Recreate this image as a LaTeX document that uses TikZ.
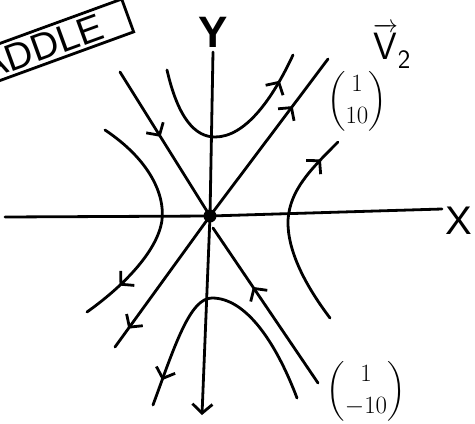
\documentclass[tikz,border=0pt]{standalone}
\usepackage{amsmath}
\usepackage{fontspec}
\setmainfont{Liberation Sans}
\usetikzlibrary{arrows.meta,decorations.markings}
\tikzset{
  barb/.tip={Straight Barb[length=9pt,width=20pt]},
  curve/.style={line width=2.8pt, line cap=round, line join=round},
  flowat/.style={postaction={decorate},
    decoration={markings,mark=at position #1 with {\arrow{barb}}}},
  lab/.style={inner sep=0pt},
}
\begin{document}
\begin{tikzpicture}[x=1pt,y=-1pt]
\useasboundingbox (0,0) rectangle (475,424);
\coordinate (O) at (210,216);
% axes
\draw[curve] (5,217) -- (O) -- (442,209);
\draw[curve,-{barb}] (213,52) -- (O) -- (202,415);
\node[lab,font=\bfseries\fontsize{44}{44}\selectfont] (ylab) at (213,32) {Y};
\node[lab,font=\fontsize{40}{40}\selectfont] (xlab) at (459,221) {X};
% eigen directions
\draw[curve,flowat=0.7] (O) -- (328,59);
\draw[curve,flowat=0.86] (O) -- (115,347);
\draw[curve,flowat=0.45] (120,72) -- (O);
\draw[curve,flowat=0.62] (318,383) -- (213,228);
% hyperbolas
\draw[curve,flowat=0.86] (167,70) .. controls (178,118) and (195,137) .. (215,137)
   .. controls (245,137) and (272,100) .. (293,55);
\draw[curve,flowat=0.9] (297,398) .. controls (275,340) and (245,298) .. (212,298)
   .. controls (190,298) and (175,345) .. (153,405);
\draw[curve,flowat=0.82] (105,130) .. controls (150,160) and (165,195) .. (162,220)
   .. controls (158,250) and (125,285) .. (87,312);
\draw[curve,flowat=0.88] (330,318) .. controls (305,285) and (287,250) .. (288,220)
   .. controls (290,190) and (310,170) .. (338,142);
\fill (O) circle (6.5);
% labels
\node[lab,font=\fontsize{38}{38}\selectfont] (v2) at (392,46) {$\overrightarrow{\mathsf{V}}_{\mathsf{2}}$};
\node[lab,font=\fontsize{28}{32}\selectfont] (e1) at (357,101) {$\begin{pmatrix}1\\10\end{pmatrix}$};
\node[lab,font=\fontsize{28}{32}\selectfont] (e2) at (366,391) {$\begin{pmatrix}1\\-10\end{pmatrix}$};
\node[draw,line width=2.8pt,rotate=20,anchor=east,inner xsep=28pt,inner ysep=4pt,
      font=\fontsize{38}{38}\selectfont] (title) at (129,15) {SADDLE};
\end{tikzpicture}
\end{document}
